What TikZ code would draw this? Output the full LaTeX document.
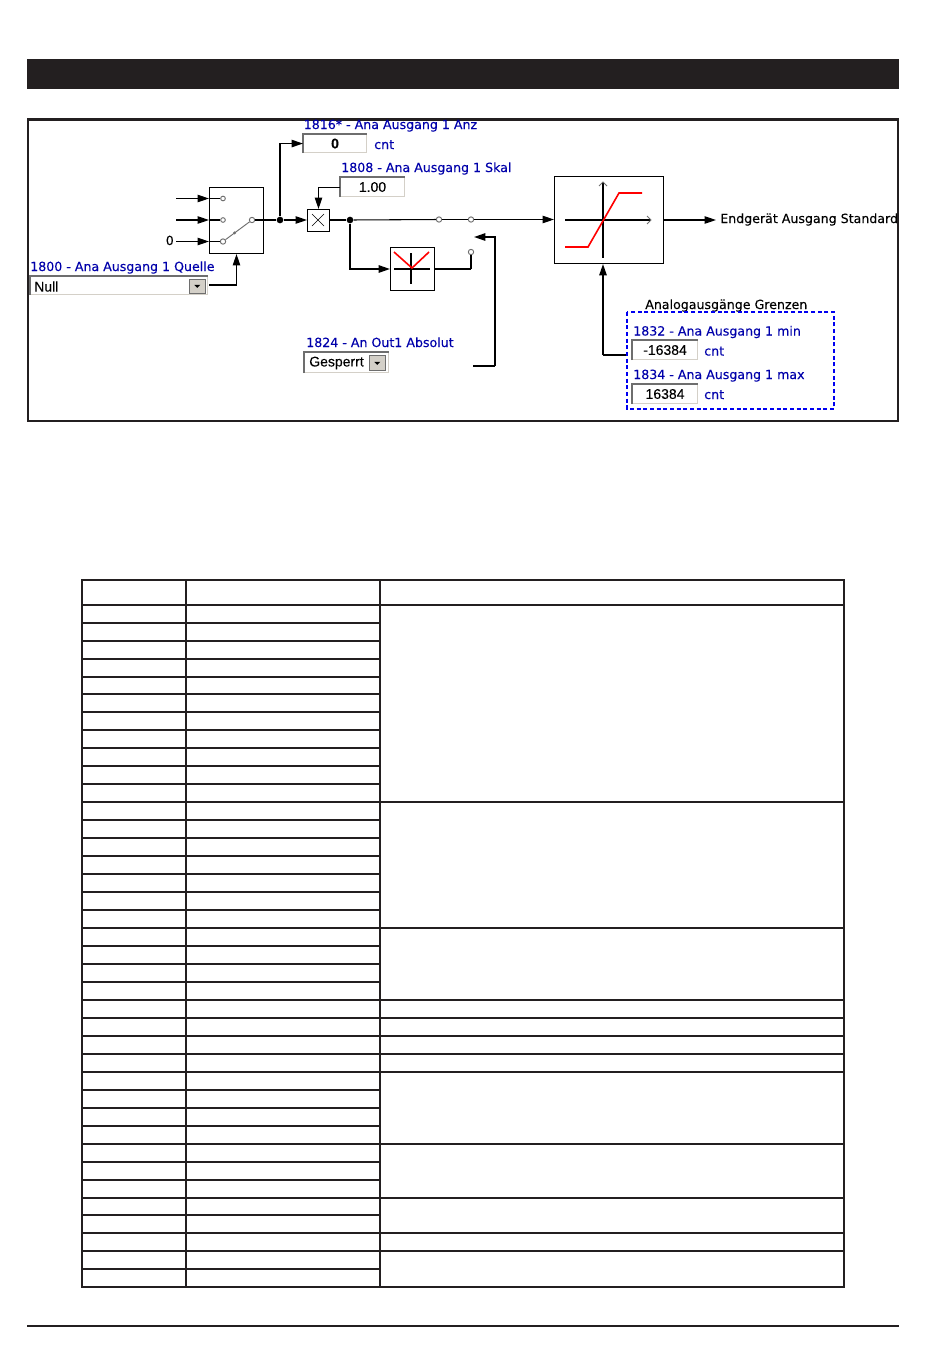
\documentclass[tikz,border=0pt]{standalone}
\usepackage{fontspec}
\setmainfont{Liberation Sans}
\newfontfamily\labelfont[FakeBold=0.15]{DejaVu Sans}
\newfontfamily\fieldfont[FakeBold=0.1]{Liberation Sans}
\usetikzlibrary{arrows.meta,calc}
\definecolor{inkdark}{RGB}{35,31,32}
\definecolor{labelblue}{RGB}{0,0,170}
\definecolor{dashblue}{RGB}{0,0,240}
\definecolor{winface}{RGB}{212,208,200}
\definecolor{winedge}{RGB}{110,110,110}
\newlength\px
\setlength\px{.75pt}
\tikzset{
  tip/.style={-{Triangle[length=8.5pt,width=5.5pt]}},
  wire/.style={line width=.8pt,black},
  thickwire/.style={line width=1.3pt,black},
  blockbox/.style={draw=black,line width=.75pt,fill=white,anchor=north west,inner sep=0pt},
  contact/.style={circle,draw=winedge,fill=white,line width=.7pt,inner sep=0pt,minimum size=4pt},
  junction/.style={circle,fill=black,inner sep=0pt,minimum size=5pt},
  labeltext/.style={anchor=base west,inner sep=0pt,text=labelblue,font=\labelfont\fontsize{9.45}{11}\selectfont},
  blacklabel/.style={labeltext,text=black},
  fieldbox/.style={draw=winface,line width=.8pt,fill=white,anchor=north west,inner sep=0pt,font=\fieldfont\fontsize{10.5}{12}\selectfont},
  fieldtext/.style={anchor=west,inner sep=0pt,font=\fieldfont\fontsize{10.5}{12}\selectfont},
  dropbtn/.style={draw=winedge,fill=winface,line width=.4pt,anchor=north west,inner sep=0pt},
  tablerule/.style={line width=1.7pt,inkdark,line cap=rect},
}
\begin{document}
\begin{tikzpicture}[x=0.75pt,y=0.75pt,yscale=-1,xscale=1]
\useasboundingbox (0,0) rectangle (950,1360);

%Shape: page band and footer rule
\fill [inkdark] (27,59) rectangle (899,89);
\draw [inkdark,line width=2.2pt] (27,1326) -- (899,1326);

%Shape: outer frame
\draw [inkdark,line width=1.7pt,line join=miter] (28,119.5) rectangle (898,421);

% Blocks
\draw (209,187) node (switchbox) [blockbox,minimum width=54\px,minimum height=66\px] {};
\draw (307,209) node (multbox) [blockbox,minimum width=22\px,minimum height=22\px] {};
\draw (390,247) node (absbox) [blockbox,minimum width=44\px,minimum height=43\px] {};
\draw (554,176) node (limitbox) [blockbox,minimum width=109\px,minimum height=87\px] {};

% Fields
\draw (303,134) node (anzfield) [fieldbox,minimum width=63\px,minimum height=18\px] {\textbf{0}};
\draw (340,177) node (skalfield) [fieldbox,minimum width=64\px,minimum height=19\px] {1.00};
\draw (632,340) node (minfield) [fieldbox,minimum width=65\px,minimum height=19\px] {-16384};
\draw (632,384) node (maxfield) [fieldbox,minimum width=65\px,minimum height=19\px] {16384};
\draw (30,276) node (quellefield) [fieldbox,minimum width=177\px,minimum height=18\px] {};
\draw (304,352) node (absfield) [fieldbox,minimum width=84\px,minimum height=20\px] {};
\foreach \f in {anzfield,skalfield,minfield,maxfield,quellefield,absfield}
  \draw [winedge,line width=.9pt] (\f.south west) -- (\f.north west) -- (\f.north east);

% Drop-down buttons
\draw (189,278.5) node (quellebtn) [dropbtn,minimum width=16\px,minimum height=14\px] {};
\draw (369,355) node (absbtn) [dropbtn,minimum width=16\px,minimum height=15\px] {};
\foreach \f in {quellebtn,absbtn}
  \fill [black] ($(\f.center)+(-3,-1)$) -- ++(6,0) -- ++(-3,3) -- cycle;

% Text Node
\draw (303.5,129) node (anzlabel) [labeltext] {1816* - Ana Ausgang 1 Anz};
\draw (374,149) node (anzunit) [labeltext] {cnt};
\draw (341,172) node (skallabel) [labeltext] {1808 - Ana Ausgang 1 Skal};
\draw (30,271) node (quellelabel) [labeltext] {1800 - Ana Ausgang 1 Quelle};
\draw (306,347) node (abslabel) [labeltext] {1824 - An Out1 Absolut};
\draw (633,335.5) node (minlabel) [labeltext] {1832 - Ana Ausgang 1 min};
\draw (704,355.5) node (minunit) [labeltext] {cnt};
\draw (633,379) node (maxlabel) [labeltext] {1834 - Ana Ausgang 1 max};
\draw (704,399) node (maxunit) [labeltext] {cnt};
\draw (645,309) node (grenzenlabel) [blacklabel] {Analogausgänge Grenzen};
\begin{scope}
\clip (700,200) rectangle (897,240);
\draw (720,223) node (outlabel) [blacklabel] {Endgerät Ausgang Standard};
\end{scope}
\draw (165.5,245) node (zerolabel) [blacklabel] {0};
\draw (34,286.5) node (quelletext) [fieldtext] {Null};
\draw (309,363) node (abstext) [fieldtext] {Gesperrt};

% Switch contacts and free line ends
\draw (223,198.5) node (conta) [contact,minimum size=3.5pt] {};
\draw (223,220) node (contb) [contact,minimum size=3.5pt] {};
\draw (223,241.5) node (contc) [contact] {};
\draw (252,220) node (contout) [contact] {};
\draw (439,219.5) node (contd) [contact] {};
\draw (471,219.5) node (conte) [contact] {};
\draw (471,252) node (contf) [contact] {};
\draw (280,220) node (splitleft) [junction] {};
\draw (350,220) node (splitright) [junction] {};
\coordinate (ina) at (176,198.5);
\coordinate (inb) at (176,220);
\coordinate (inc) at (176,241.5);
\coordinate (outend) at (716,220);
\coordinate (absend) at (473,366);
\coordinate (absturn) at (495,366);
\coordinate (abstip) at (474,237);
\coordinate (quelleend) at (209,285);
\coordinate (limitend) at (627,355);

% Connectors
\draw [wire,tip] (ina) -- (switchbox.west |- ina);
\draw [wire,tip] (inb) -- (switchbox.west |- inb);
\draw [wire,tip] (inc) -- (switchbox.west |- inc);
\draw [wire] (switchbox.west |- ina) -- (conta);
\draw [wire] (switchbox.west |- inb) -- (contb);
\draw [wire] (switchbox.west |- inc) -- (contc);
\draw [winedge,line width=.7pt] (contc) -- (contout);
\fill [winedge] ($(contc)!.4!(contout)$) circle (1.6);
\draw [wire] (contout) -- (splitleft);
\draw [wire,tip] (splitleft) -- (multbox.west |- splitleft);
\draw [wire,line width=1pt,tip] (splitleft) |- (anzfield.west);
\draw [wire,tip] (skalfield.west) -| (multbox.north);
\draw [wire] (multbox.east |- splitright) -- (splitright);
\draw [wire] (splitright) -- (contd);
\draw [wire] (contd) -- (conte);
\draw [wire,tip] (conte) -- (limitbox.west |- conte);
\draw [thickwire,tip] (splitright) |- (absbox.west);
\draw [thickwire] (absbox.east) -- (contf |- absbox.east);
\draw [wire] (contf |- absbox.east) -- (contf);
\draw [wire] (absend) -- (absturn);
\draw [thickwire,tip] (absturn) |- (abstip);
\draw [wire,tip] (limitbox.east |- outend) -- (outend);
\draw [wire,tip] (quelleend) -| (switchbox.south);
\draw [wire] (limitend) -- (limitend -| 603,0);
\draw [thickwire,tip] (limitend -| 603,0) -- ($(limitbox.south west)+(49,0)$);

% Inside the blocks
\draw [black,line width=.4pt] (312,214) -- (324,226) (312,226) -- (324,214);
\draw [thickwire] (394,269) -- (430,269);
\draw [wire] (411,253) -- (411,284);
\draw [red,line width=1.2pt] (394,252) -- (412,268) -- (429,252);
\draw [wire] (565,220) -- (650,220);
\draw [winedge,line width=.6pt] (647,216) -- (651,220) -- (647,224);
\draw [thickwire] (603,183) -- (603,258);
\draw [winedge,line width=.6pt] (599,186) -- (603,182) -- (607,186);
\draw [red,line width=1.2pt] (565,247) -- (588,247) -- (619,193) -- (642,193);

%Shape: dashed limits group
\draw [dashblue,line width=1.2pt,densely dashed] (627,312) rectangle (834,409);

%Shape: table grid
\foreach \x in {82,186,380,844}
  \draw [tablerule] (\x,580) -- (\x,1287);
\foreach \y in {580,605,623,641,659,677,694,712,730,748,766,784,802,820,838,856,874,892,910,928,946,964,982,1000,1018,1036,1054,1072,1090,1108,1126,1144,1162,1180,1198,1215,1233,1251,1269,1287}
  \draw [tablerule] (82,\y) -- (380,\y);
\foreach \y in {580,605,802,928,1000,1018,1036,1054,1072,1144,1198,1233,1251,1287}
  \draw [tablerule] (380,\y) -- (844,\y);
\end{tikzpicture}
\end{document}
